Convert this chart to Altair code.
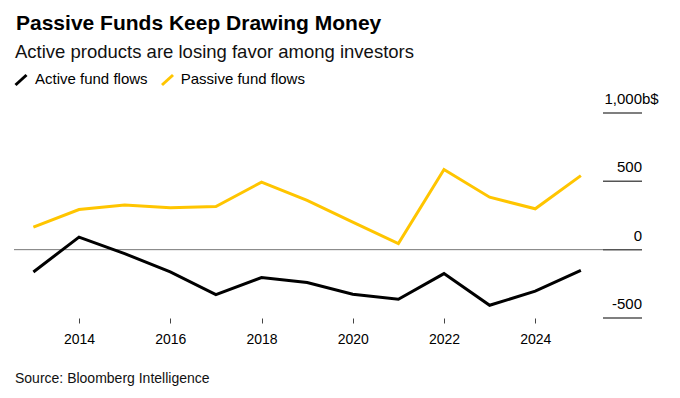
import altair as alt
import pandas as pd

# ---- data ----
years = list(range(2013, 2026))
active = [-163, 92, -29, -163, -329, -204, -241, -326, -363, -175, -407, -304, -151]
passive = [165, 294, 326, 307, 316, 494, 360, 201, 44, 586, 384, 299, 542]
series_names = ["Active fund flows", "Passive fund flows"]
series_colors = ["#000000", "#FFC500"]
y_ticks = [1000, 500, 0, -500]
y_labels = ["1,000", "500", "0", "-500"]
x_ticks = [2014, 2016, 2018, 2020, 2022, 2024]

title = "Passive Funds Keep Drawing Money"
subtitle = "Active products are losing favor among investors"
source = "Source: Bloomberg Intelligence"

FONT = "Liberation Sans"
W, H = 628, 205

rows = []
for yr, a, p in zip(years, active, passive):
    rows.append({"year": yr, "value": a, "series": series_names[0]})
    rows.append({"year": yr, "value": p, "series": series_names[1]})
df = pd.DataFrame(rows)

xscale = alt.Scale(domain=[2012.575, 2026.34], nice=False, zero=False)
yscale = alt.Scale(domain=[-500, 1000], nice=False)

lines = alt.Chart(df).mark_line(strokeWidth=3).encode(
    x=alt.X("year:Q", scale=xscale,
            axis=alt.Axis(values=x_ticks, format="d", title=None, domain=False, grid=False,
                          tickSize=5, tickColor="#444", tickWidth=1,
                          labelFont=FONT, labelFontSize=14, labelColor="#000",
                          labelPadding=9)),
    y=alt.Y("value:Q", scale=yscale, axis=None),
    color=alt.Color("series:N",
                    scale=alt.Scale(domain=series_names, range=series_colors),
                    legend=None),
)

tick_df = pd.DataFrame({"v": y_ticks, "lab": y_labels})

zero_line = alt.Chart(pd.DataFrame({"v": [0]})).mark_rule(color="#777", strokeWidth=1).encode(
    y=alt.Y("v:Q", scale=yscale, axis=None), x=alt.value(0), x2=alt.value(589)
)

grid_segs = alt.Chart(tick_df).mark_rule(color="#555", strokeWidth=1.5).encode(
    y=alt.Y("v:Q", scale=yscale, axis=None), x=alt.value(589), x2=alt.value(628)
)

grid_labels = alt.Chart(tick_df).mark_text(
    align="right", baseline="alphabetic", dy=-9, font=FONT, fontSize=15, color="#000"
).encode(y=alt.Y("v:Q", scale=yscale, axis=None), x=alt.value(628), text="lab:N")

unit_label = alt.Chart(pd.DataFrame({"v": [1000], "u": ["b$"]})).mark_text(
    align="left", baseline="alphabetic", dy=-9, font=FONT, fontSize=15, color="#000"
).encode(y=alt.Y("v:Q", scale=yscale, axis=None), x=alt.value(628), text="u:N")


def text_layer(txt, x, y, size, weight="normal", color="#000"):
    return alt.Chart(pd.DataFrame({"t": [txt]})).mark_text(
        align="left", baseline="alphabetic", font=FONT, fontSize=size,
        fontWeight=weight, color=color
    ).encode(x=alt.value(x), y=alt.value(y), text="t:N")


def legend_slash(color, x0):
    return alt.Chart(pd.DataFrame({"c": [color]})).mark_rule(
        color=color, strokeWidth=3
    ).encode(x=alt.value(x0), x2=alt.value(x0 + 11), y=alt.value(-28), y2=alt.value(-38))


layers = [zero_line, grid_segs, grid_labels, unit_label, lines,
          text_layer(title, 2, -83, 21, "bold"),
          text_layer(subtitle, 1, -54.7, 18.5, color="#111"),
          text_layer(source, 1, 270, 14, color="#111"),
          legend_slash(series_colors[0], 1.5),
          text_layer(series_names[0], 21, -29, 15),
          legend_slash(series_colors[1], 148),
          text_layer(series_names[1], 166.7, -29, 15)]

chart = alt.layer(*layers).properties(
    width=W, height=H,
    autosize=alt.AutoSizeParams(type="none"),
    padding={"left": 6, "top": 105, "right": 24, "bottom": 70},
    background="white",
).configure_view(stroke=None)

chart.save("out.html", embed_options={"renderer": "svg", "actions": False})
